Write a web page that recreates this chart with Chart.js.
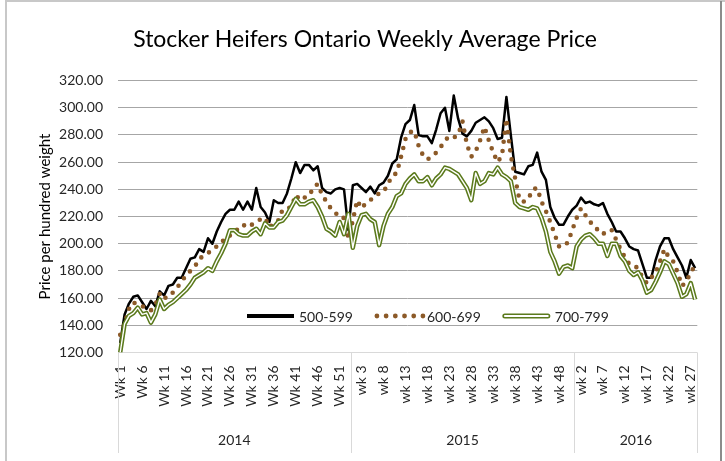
<!DOCTYPE html>
<html>
<head>
<meta charset="utf-8">
<title>Stocker Heifers Ontario Weekly Average Price</title>
<script src="https://cdn.jsdelivr.net/npm/chart.js@4.4.1/dist/chart.umd.min.js"></script>
<style>
    html, body { margin: 0; padding: 0; background: #fff; }
    #wrap { position: relative; width: 725px; height: 461px; }
</style>
</head>
<body>
<div id="wrap"><canvas id="price-chart"></canvas></div>
<script>
// week labels, one per weekly observation
const weeks2014 = ["Wk 1","Wk 2","Wk 3","Wk 4","Wk 5","Wk 6","Wk 7","Wk 8","Wk 9","Wk 10",
    "Wk 11","Wk 12","Wk 13","Wk 14","Wk 15","Wk 16","Wk 17","Wk 18","Wk 19","Wk 20",
    "Wk 21","Wk 22","Wk 23","Wk 24","Wk 25","Wk 26","Wk 27","Wk 28","Wk 29","Wk 30",
    "Wk 31","Wk 32","Wk 33","Wk 34","Wk 35","Wk 36","Wk 37","Wk 38","Wk 39","Wk 40",
    "Wk 41","Wk 42","Wk 43","Wk 44","Wk 45","Wk 46","Wk 47","Wk 48","Wk 49","Wk 50",
    "Wk 51","Wk 52","Wk 53"];
const weeks2015 = ["wk 1","wk 2","wk 3","wk 4","wk 5","wk 6","wk 7","wk 8","wk 9","wk 10",
    "wk 11","wk 12","wk 13","wk 14","wk 15","wk 16","wk 17","wk 18","wk 19","wk 20",
    "wk 21","wk 22","wk 23","wk 24","wk 25","wk 26","wk 27","wk 28","wk 29","wk 30",
    "wk 31","wk 32","wk 33","wk 34","wk 35","wk 36","wk 37","wk 38","wk 39","wk 40",
    "wk 41","wk 42","wk 43","wk 44","wk 45","wk 46","wk 47","wk 48","wk 49","wk 50",
    "wk 51"];
const weeks2016 = ["wk 1","wk 2","wk 3","wk 4","wk 5","wk 6","wk 7","wk 8","wk 9","wk 10",
    "wk 11","wk 12","wk 13","wk 14","wk 15","wk 16","wk 17","wk 18","wk 19","wk 20",
    "wk 21","wk 22","wk 23","wk 24","wk 25","wk 26","wk 27","wk 28"];
const years = ["2014", "2015", "2016"];

// $/cwt
const price500 = [
    127,148,156,161,162,157,152,158,154,165,162,169,170,175,175,182,189,190,196,194,
    204,200,209,216,222,225,225,231,225,231,225,241,227,223,216,232,230,230,237,248,
    260,252,258,258,254,257,241,238,237,240,241,240,210,
    243,244,241,238,242,237,243,245,250,259,262,278,288,291,302,280,279,279,274,284,
    296,300,283,309,292,281,279,283,289,291,293,290,285,277,278,308,280,253,252,251,
    257,258,267,253,247,227,219,214,214,220,225,
    228,234,230,231,229,228,230,222,216,209,209,204,198,196,195,185,175,175,188,198,
    204,204,196,190,184,175,188,182];
const price600 = [
    133,141,152,157,155,154,153,151,155,163,159,163,164,168,172,177,180,183,189,191,
    193,196,198,200,205,206,209,211,214,212,214,216,218,219,212,215,217,225,226,227,
    236,232,234,235,241,244,236,231,226,223,219,219,204,
    217,232,226,230,232,235,237,238,244,250,252,264,277,282,283,272,265,262,264,267,
    271,276,279,278,280,290,273,264,268,276,286,276,267,260,265,292,265,248,232,231,
    233,240,241,231,224,216,207,198,198,201,210,
    219,226,221,216,214,209,207,210,210,203,196,190,185,184,182,175,171,175,179,187,
    196,190,187,179,169,172,179,184];
const price700 = [
    120,141,147,149,153,148,149,142,148,159,152,155,157,160,163,166,170,175,177,179,
    182,180,187,193,200,210,210,207,206,206,209,211,207,215,212,212,216,217,221,227,
    233,229,229,231,232,227,220,211,209,206,216,207,222,
    197,213,221,222,218,216,199,213,222,227,235,237,244,248,251,246,246,249,243,248,
    251,256,255,253,251,246,241,232,252,244,246,252,251,256,251,249,246,230,227,226,
    225,227,226,219,209,194,187,178,183,184,182,
    198,203,206,207,204,200,200,191,200,200,191,187,180,177,179,173,164,166,172,179,
    187,185,178,171,161,163,171,159];

const yTicks = [120, 140, 160, 180, 200, 220, 240, 260, 280, 300, 320];

const weekLabels = weeks2014.concat(weeks2015, weeks2016);
const yearSizes = [weeks2014.length, weeks2015.length, weeks2016.length];

const FONT = "Lato, 'Open Sans', sans-serif";
const TEXT = "#262626";
const BLACK = "#000000";
const BROWN = "#8c5a28";
const OLIVE = "#5b7a1c";

// Excel-like frame around the chart area
const framePlugin = {
    id: "frame",
    beforeDraw(chart) {
        const ctx = chart.ctx;
        ctx.save();
        ctx.fillStyle = "#ffffff";
        ctx.fillRect(0, 0, chart.width, chart.height);
        ctx.strokeStyle = "#c8c8c8";
        ctx.lineWidth = 2;
        ctx.beginPath();
        ctx.moveTo(6, chart.height);
        ctx.lineTo(6, 1);
        ctx.lineTo(chart.width, 1);
        ctx.stroke();
        ctx.strokeStyle = "#8c8c8c";
        ctx.beginPath();
        ctx.moveTo(721, 1);
        ctx.lineTo(721, chart.height);
        ctx.stroke();
        ctx.restore();
    },
};

// second level of the category axis: year groups with separators
const yearAxisPlugin = {
    id: "yearAxis",
    afterDraw(chart) {
        const xs = chart.scales.x;
        const ctx = chart.ctx;
        const top = xs.top;
        const bottom = 453;
        ctx.save();
        ctx.strokeStyle = "#d9d9d9";
        ctx.lineWidth = 1;
        ctx.font = "14px " + FONT;
        ctx.fillStyle = TEXT;
        ctx.textAlign = "center";
        ctx.textBaseline = "middle";
        let start = 0;
        const edges = [xs.getPixelForValue(-0.5)];
        yearSizes.forEach((n, i) => {
            const x0 = xs.getPixelForValue(start - 0.5);
            const x1 = xs.getPixelForValue(start + n - 0.5);
            edges.push(x1);
            ctx.fillText(years[i], (x0 + x1) / 2, 440);
            start += n;
        });
        edges.forEach((x) => {
            const px = Math.round(x) + 0.5;
            ctx.beginPath();
            ctx.moveTo(px, top);
            ctx.lineTo(px, bottom);
            ctx.stroke();
        });
        ctx.restore();
    },
};

// legend sits inside the plot, above the 140 gridline
const innerLegendPlugin = {
    id: "innerLegend",
    afterDraw(chart) {
        const ctx = chart.ctx;
        const y = 316;
        let x = 247;
        ctx.save();
        ctx.font = "14px " + FONT;
        ctx.fillStyle = TEXT;
        ctx.textBaseline = "middle";
        ctx.textAlign = "left";

        const items = [
            { label: "500-599", kind: "solid" },
            { label: "600-699", kind: "dots" },
            { label: "700-799", kind: "double" },
        ];
        items.forEach((item) => {
            const len = 47;
            ctx.save();
            ctx.lineCap = "butt";
            if (item.kind === "solid") {
                ctx.strokeStyle = BLACK;
                ctx.lineWidth = 4;
                ctx.beginPath();
                ctx.moveTo(x, y);
                ctx.lineTo(x + len, y);
                ctx.stroke();
            } else if (item.kind === "dots") {
                ctx.fillStyle = BROWN;
                for (let k = 0; k < 6; k++) {
                    ctx.beginPath();
                    ctx.arc(x + 2 + k * 9.2, y, 2.4, 0, Math.PI * 2);
                    ctx.fill();
                }
            } else {
                ctx.strokeStyle = OLIVE;
                ctx.lineWidth = 5;
                ctx.lineCap = "round";
                ctx.beginPath();
                ctx.moveTo(x + 2, y);
                ctx.lineTo(x + len - 2, y);
                ctx.stroke();
                ctx.strokeStyle = "#ffffff";
                ctx.lineWidth = 1.8;
                ctx.beginPath();
                ctx.moveTo(x + 2, y);
                ctx.lineTo(x + len - 2, y);
                ctx.stroke();
            }
            ctx.restore();
            x += len + 5;
            ctx.fillText(item.label, x, y + 1);
            x += ctx.measureText(item.label).width + 22;
        });
        ctx.restore();
    },
};

const data = {
    labels: weekLabels,
    datasets: [
        {
            label: "500-599",
            data: price500,
            borderColor: BLACK,
            borderWidth: 2.5,
            order: 4,
        },
        {
            label: "600-699",
            data: price600,
            borderColor: BROWN,
            borderWidth: 4.6,
            borderDash: [0, 9.2],
            borderCapStyle: "round",
            order: 3,
        },
        {
            label: "700-799",
            data: price700,
            borderColor: OLIVE,
            borderWidth: 4.5,
            order: 2,
        },
        {
            // inner white stroke that makes the 700-799 line look doubled
            label: "700-799 inner",
            data: price700,
            borderColor: "#ffffff",
            borderWidth: 1.4,
            order: 1,
        },
    ],
};

new Chart(document.getElementById("price-chart").getContext("2d"), {
    type: "line",
    data: data,
    options: {
        responsive: true,
        maintainAspectRatio: false,
        animation: false,
        events: [],
        // left padding keeps the title centred where the original has it
        layout: { padding: { left: 24, right: 19, top: 0, bottom: 0 } },
        elements: {
            point: { radius: 0 },
            line: { tension: 0, borderJoinStyle: "round", fill: false },
        },
        plugins: {
            legend: { display: false },
            tooltip: { enabled: false },
            title: {
                display: true,
                text: "Stocker Heifers Ontario Weekly Average Price",
                color: "#000000",
                font: { family: FONT, size: 23, weight: "normal" },
                padding: { top: 26, bottom: 27 },
            },
        },
        scales: {
            x: {
                type: "category",
                offset: true,
                grid: { display: false, drawTicks: false },
                border: { display: false },
                ticks: {
                    autoSkip: false,
                    minRotation: 90,
                    maxRotation: 90,
                    padding: 13,
                    color: TEXT,
                    font: { family: FONT, size: 14 },
                    callback: function (value, index) {
                        return index % 5 === 0 ? this.getLabelForValue(value) : "";
                    },
                },
                afterFit(scale) {
                    scale.height = 108.5;
                },
            },
            y: {
                min: yTicks[0],
                max: yTicks[yTicks.length - 1],
                afterBuildTicks(scale) {
                    scale.ticks = yTicks.map((v) => ({ value: v }));
                },
                grid: {
                    drawTicks: false,
                    color: (ctx) => (ctx.tick && ctx.tick.value === 120 ? "#d9d9d9" : "#a6a6a6"),
                },
                border: { display: false },
                ticks: {
                    padding: 15,
                    color: TEXT,
                    font: { family: FONT, size: 14 },
                    callback: (v) => Number(v).toFixed(2),
                },
                title: {
                    display: true,
                    text: "Price per hundred weight",
                    color: "#000000",
                    font: { family: FONT, size: 15 },
                    padding: { top: 12, bottom: 0 },
                },
                afterFit(scale) {
                    scale.width = 94;
                },
            },
        },
    },
    plugins: [framePlugin, yearAxisPlugin, innerLegendPlugin],
});
</script>
</body>
</html>
